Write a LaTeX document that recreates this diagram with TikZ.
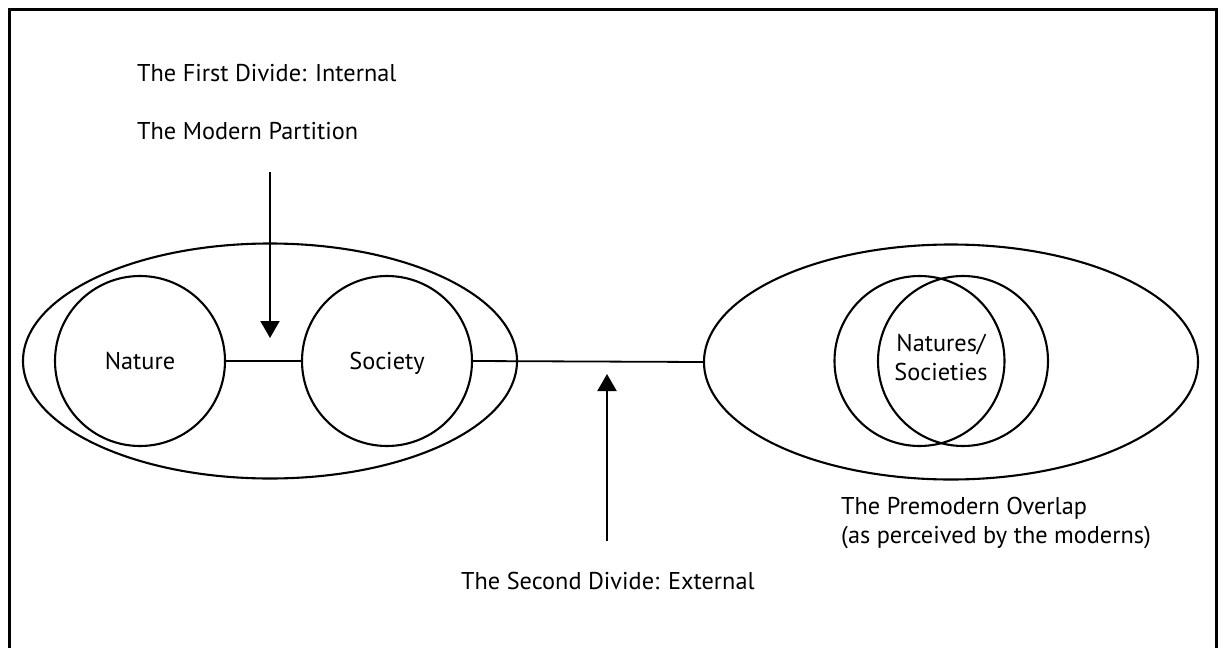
\documentclass[tikz,border=0pt]{standalone}
\usepackage{fontspec}
\setmainfont{PT Sans}
\usetikzlibrary{arrows.meta,shapes.geometric}
\begin{document}
\begin{tikzpicture}[x=1pt,y=-1pt,
  txt/.style={font=\fontsize{24.3}{29}\selectfont, inner sep=0pt},
  lbl/.style={txt, anchor=base west},
  ring/.style={circle, draw, line width=2.1pt, minimum size=170pt, inner sep=0pt,
    txt, text height=16pt, text depth=0pt},
  oval/.style={ellipse, draw, line width=2.1pt, minimum width=494pt,
    minimum height=235pt, inner sep=0pt},
  link/.style={line width=1.8pt},
  pointer/.style={line width=2.1pt, -{Triangle[width=19pt,length=17pt]}}
]
\useasboundingbox (0,0) rectangle (1224,648);

% open frame
\draw[line width=3pt] (9.5,650) -- (9.5,9.5) -- (1216.5,9.5) -- (1216.5,650);

% the modern side
\node[oval] (modern) at (270,361) {};
\node[ring] (nature) at (140,361) {Nature};
\node[ring] (society) at (387,361) {Society};
\draw[link] (nature.east) -- (society.east -| society.west);

% the premodern side
\node[oval] (premodern) at (951,362) {};
\node[ring] (natL) at (919.5,361) {};
\node[ring] (natR) at (963,361) {};
\node[txt, align=center] (mixed) at (941,357) {Natures/\\Societies};

% the second divide between the two sides
\draw[link] (society.east) -- (premodern.west);

% labels
\node[lbl] (first) at (137,81) {The First Divide: Internal};
\node[lbl] (partition) at (137,139) {The Modern Partition};
\node[lbl] (second) at (461,589) {The Second Divide: External};
\node[lbl] (overlap) at (841,514) {The Premodern Overlap};
\node[lbl] (perceived) at (841,543) {(as perceived by the moderns)};

% pointers
\coordinate (downfrom) at (270,172);
\coordinate (downto) at (270,338);
\draw[pointer] (downfrom) -- (downto);
\coordinate (upfrom) at (607,541);
\coordinate (upto) at (607,374);
\draw[pointer] (upfrom) -- (upto);
\end{tikzpicture}
\end{document}
